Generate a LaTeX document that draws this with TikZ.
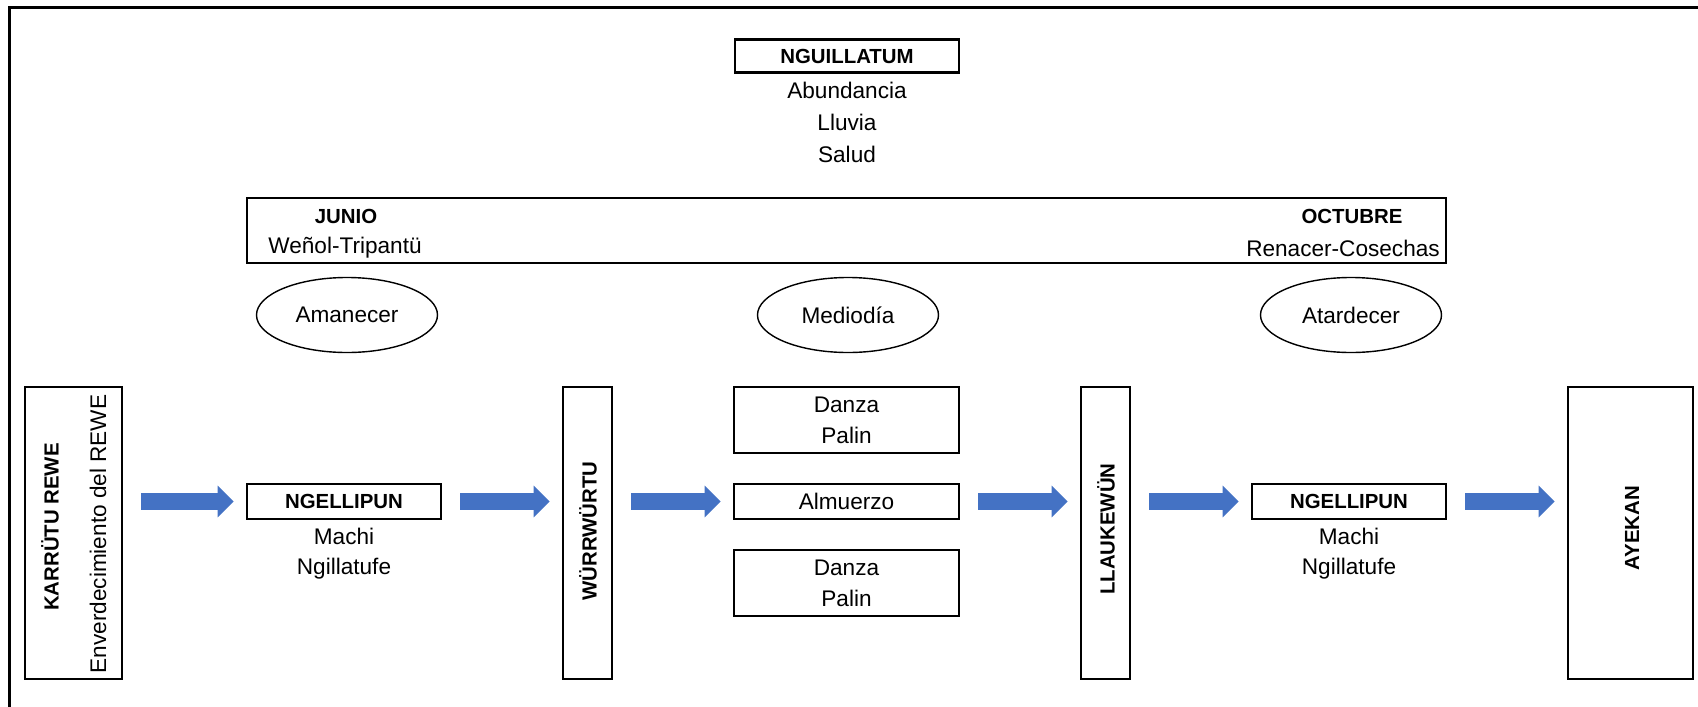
\documentclass[tikz,border=0pt]{standalone}
\usepackage{fontspec}
\setmainfont{Liberation Sans}
\usetikzlibrary{shapes.geometric,arrows.meta}
\definecolor{arrowblue}{HTML}{4472C4}
\newcommand\txtfont{\fontsize{11.3}{15.5}\selectfont}
\newcommand\hdfont{\fontsize{10.2}{12}\selectfont\bfseries}
\tikzset{
	box/.style={draw,line width=1.3pt,inner sep=0pt,align=center,font=\txtfont},
	oval/.style={draw,ellipse,line width=0.7pt,inner sep=0pt,minimum width=90.5pt,minimum height=37.5pt,font=\txtfont},
	txt/.style={inner sep=0pt,font=\txtfont},
	hd/.style={inner sep=0pt,font=\hdfont},
	flow/.style={draw=arrowblue,line width=8.5pt,-{Triangle[length=8pt,width=15.5pt]},shorten <=9pt,shorten >=6pt}
}
\begin{document}
\begin{tikzpicture}[x=0.5pt,y=-0.5pt]
		\useasboundingbox (0,0) rectangle (1698,707);
		%Frame
			\draw[line width=1.5pt] (9,707) -- (9,7) -- (1698,7);
		%Nguillatum
			\node[box,font=\hdfont,minimum width=112pt,minimum height=16.5pt] (nguillatum) at (847,56) {NGUILLATUM};
			\foreach \t [count=\i] in {Abundancia,Lluvia,Salud}
			{
				\node[txt] (goal\i) at (847,58+32*\i) {\t};
			}
		%Months
			\node[box,minimum width=599.5pt,minimum height=32.5pt] (band) at (846.5,230.5) {};
			\node[hd] (junio) at (346,216) {JUNIO};
			\node[txt] (wenol) at (345,248) {Weñol-Tripantü};
			\node[hd] (octubre) at (1352,216) {OCTUBRE};
			\node[txt] (renacer) at (1343,248) {Renacer-Cosechas};
		%Times of day
			\node[oval] (amanecer) at (347,315) {Amanecer};
			\node[oval] (mediodia) at (848,315) {Mediodía};
			\node[oval] (atardecer) at (1351,315) {Atardecer};
		%Tall boxes
			\node[box,minimum width=48.5pt,minimum height=146pt] (karrutu) at (73.5,533) {};
			\node[hd,rotate=90] (karrututxt) at (50,527) {KARRÜTU REWE};
			\node[txt,rotate=90] (enverde) at (98,534) {Enverdecimiento del REWE};
			\node[box,minimum width=24.5pt,minimum height=146pt] (wurr) at (587.5,533) {};
			\node[hd,rotate=90] (wurrtxt) at (588,531) {WÜRRWÜRTU};
			\node[box,minimum width=24.5pt,minimum height=146pt] (llau) at (1105.5,533) {};
			\node[hd,rotate=90] (llautxt) at (1106,529) {LLAUKEWÜN};
			\node[box,minimum width=62.5pt,minimum height=146pt] (ayekan) at (1630.5,533) {};
			\node[hd,rotate=90] (ayekantxt) at (1632,528) {AYEKAN};
		%Ngellipun
			\foreach \n/\x in {ngelA/344,ngelB/1349}
			{
				\node[box,font=\hdfont,minimum width=97pt,minimum height=17.5pt] (\n) at (\x,501.5) {NGELLIPUN};
				\node[txt] (\n machi) at (\x,536) {Machi};
				\node[txt] (\n fe) at (\x,569) {Ngillatufe};
			}
		%Middle column
			\node[box,minimum width=112.5pt,minimum height=33pt] (danzaA) at (846.5,420) {Danza\\Palin};
			\node[box,minimum width=112.5pt,minimum height=17.5pt] (almuerzo) at (846.5,501.5) {Almuerzo};
			\node[box,minimum width=112.5pt,minimum height=33pt] (danzaB) at (846.5,583) {Danza\\Palin};
		%Arrows
			\draw[flow] (karrutu.east |- ngelA) -- (ngelA);
			\draw[flow] (ngelA) -- (ngelA -| wurr.west);
			\draw[flow] (wurr.east |- almuerzo) -- (almuerzo);
			\draw[flow] (almuerzo) -- (almuerzo -| llau.west);
			\draw[flow] (llau.east |- ngelB) -- (ngelB);
			\draw[flow] (ngelB) -- (ngelB -| ayekan.west);
	\end{tikzpicture}
\end{document}
